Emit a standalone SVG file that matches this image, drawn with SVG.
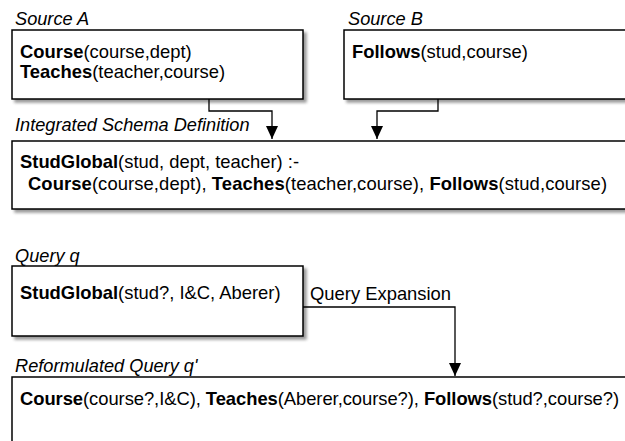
<svg xmlns="http://www.w3.org/2000/svg" width="625" height="441" viewBox="0 0 625 441">
<style>
.box{fill:#fff;stroke:#000;stroke-width:1.5;filter:url(#sh)}
.t{font-family:"Liberation Sans",Arial,sans-serif;font-size:18.4px;fill:#000}
.lab{font-family:"Liberation Sans",Arial,sans-serif;font-size:18.2px;font-style:italic;fill:#000}
.b{font-weight:bold}
.c{fill:none;stroke:#000;stroke-width:1.3}
</style>
<defs>
<filter id="sh" x="-10%" y="-10%" width="130%" height="140%">
<feGaussianBlur in="SourceAlpha" stdDeviation="1.5"/>
<feOffset dx="3" dy="3" result="o"/>
<feComponentTransfer><feFuncA type="linear" slope="0.4"/></feComponentTransfer>
<feMerge><feMergeNode/><feMergeNode in="SourceGraphic"/></feMerge>
</filter>
<marker id="ah" markerWidth="14" markerHeight="12" refX="13" refY="6" orient="auto" markerUnits="userSpaceOnUse" viewBox="0 0 14 12">
<path d="M0,0 L13,6 L0,12 Z" fill="#000"/>
</marker>
</defs>

<g id="sourceA">
<text class="lab" x="15" y="25">Source A</text>
<rect class="box" x="12" y="30" width="291" height="69"/>
<text class="t" x="20" y="58"><tspan class="b">Course</tspan>(course,dept)</text>
<text class="t" x="20" y="78"><tspan class="b">Teaches</tspan>(teacher,course)</text>
</g>

<g id="sourceB">
<text class="lab" x="348" y="25">Source B</text>
<rect class="box" x="344" y="30" width="300" height="69"/>
<text class="t" x="352" y="58"><tspan class="b">Follows</tspan>(stud,course)</text>
</g>

<g id="integrated">
<text class="lab" x="15" y="131">Integrated Schema Definition</text>
<rect class="box" x="12" y="141" width="632" height="68"/>
<text class="t" x="20" y="168"><tspan class="b">StudGlobal</tspan>(stud, dept, teacher) :-</text>
<text class="t" x="28" y="190" textLength="579" lengthAdjust="spacing"><tspan class="b">Course</tspan>(course,dept), <tspan class="b">Teaches</tspan>(teacher,course), <tspan class="b">Follows</tspan>(stud,course)</text>
</g>

<g id="queryq">
<text class="lab" x="15" y="262">Query q</text>
<rect class="box" x="12" y="266" width="291" height="70"/>
<text class="t" x="20" y="299"><tspan class="b">StudGlobal</tspan>(stud?, I&amp;C, Aberer)</text>
</g>

<g id="reformulated">
<text class="lab" x="15" y="372">Reformulated Query q'</text>
<rect class="box" x="12" y="377" width="632" height="80"/>
<text class="t" x="20" y="405" textLength="599" lengthAdjust="spacing"><tspan class="b">Course</tspan>(course?,I&amp;C), <tspan class="b">Teaches</tspan>(Aberer,course?), <tspan class="b">Follows</tspan>(stud?,course?)</text>
</g>

<g id="connectors">
<path class="c" d="M209,99 V111 H272 V139" marker-end="url(#ah)"/>
<path class="c" d="M438,99 V111 H377 V139" marker-end="url(#ah)"/>
<path class="c" d="M303,307 H455 V376" marker-end="url(#ah)"/>
<text class="t" x="310" y="300">Query Expansion</text>
</g>
</svg>
